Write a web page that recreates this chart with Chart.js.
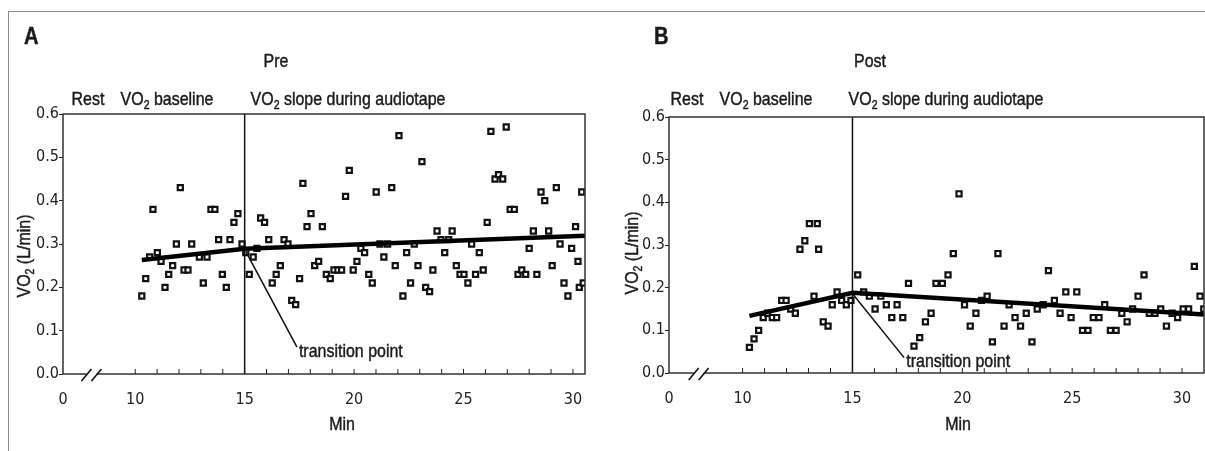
<!DOCTYPE html>
<html>
<head>
<meta charset="utf-8">
<script src="https://cdn.jsdelivr.net/npm/chart.js@4.4.1/dist/chart.umd.min.js"></script>
<style>
    html, body { margin: 0; padding: 0; background: #fff; }
    body { width: 1205px; height: 451px; position: relative; overflow: hidden; }
    #frame { position: absolute; left: 8px; top: 11px; width: 1197px; height: 440px;
             border-top: 1px solid #8c8c8c; border-left: 1px solid #8c8c8c; }
    .panel { position: absolute; top: 0; height: 451px; }
    #panelA { left: 0; width: 600px; }
    #panelB { left: 600px; width: 605px; }
</style>
</head>
<body>
<div id="frame"></div>
<div class="panel" id="panelA"><canvas id="chartA" width="600" height="451"></canvas></div>
<div class="panel" id="panelB"><canvas id="chartB" width="605" height="451"></canvas></div>
<script>
const TICK_FONT = '"DejaVu Sans Condensed", "Liberation Sans", sans-serif';
const TEXT_FONT = '"Liberation Sans", Arial, sans-serif';
const NARROW = 0.84; // horizontal squeeze to get a condensed look

// axis ticks (minutes); the left edge of the broken axis is labelled 0
const xMajorTicks = [10, 15, 20, 25, 30];
const yTickValues = [0, 0.1, 0.2, 0.3, 0.4, 0.5, 0.6];
const transitionMin = 15;

// A - Pre
const preMin = [10.30,10.48,10.66,10.81,11.01,11.18,11.36,11.53,11.71,11.88,
    12.06,12.23,12.41,12.58,12.93,13.11,13.28,13.46,13.64,13.81,
    13.98,14.16,14.33,14.51,14.69,14.88,15.05,15.21,15.39,15.56,
    15.73,15.91,16.10,16.26,16.44,16.63,16.80,16.98,17.15,17.33,
    17.51,17.66,17.85,18.03,18.20,18.38,18.55,18.73,18.91,19.08,
    19.26,19.43,19.61,19.78,19.96,20.13,20.31,20.48,20.67,20.83,
    21.01,21.18,21.36,21.53,21.72,21.88,22.05,22.23,22.40,22.58,
    22.75,22.92,23.10,23.27,23.45,23.60,23.79,23.97,24.14,24.32,
    24.48,24.67,24.84,25.02,25.20,25.37,25.55,25.72,25.90,26.08,
    26.25,26.44,26.60,26.79,26.95,27.13,27.32,27.49,27.66,27.84,
    28.00,28.19,28.35,28.54,28.71,28.89,29.05,29.24,29.41,29.59,
    29.77,29.94,30.12,30.23,30.29,30.40,30.47];
const preVO2 = [0.18,0.22,0.27,0.38,0.28,0.26,0.20,0.23,0.25,0.30,
    0.43,0.24,0.24,0.30,0.27,0.21,0.27,0.38,0.38,0.31,
    0.23,0.20,0.31,0.35,0.37,0.30,0.28,0.23,0.27,0.29,
    0.36,0.35,0.31,0.21,0.23,0.25,0.31,0.30,0.17,0.16,
    0.22,0.44,0.34,0.37,0.25,0.26,0.34,0.23,0.22,0.24,
    0.24,0.24,0.41,0.47,0.24,0.26,0.29,0.28,0.23,0.21,
    0.42,0.30,0.27,0.30,0.43,0.25,0.55,0.18,0.28,0.21,
    0.30,0.25,0.49,0.20,0.19,0.24,0.33,0.31,0.28,0.31,
    0.33,0.25,0.23,0.23,0.21,0.30,0.23,0.28,0.24,0.35,
    0.56,0.45,0.46,0.45,0.57,0.38,0.38,0.23,0.24,0.23,
    0.29,0.33,0.23,0.42,0.40,0.33,0.25,0.43,0.30,0.21,
    0.18,0.29,0.34,0.26,0.20,0.42,0.21];
const preFitMin = [10.3, 15, 30.55];
const preFitVO2 = [0.263, 0.289, 0.319];

// B - Post
const postMin = [10.31,10.52,10.73,10.94,11.14,11.35,11.55,11.78,11.98,12.19,
    12.40,12.61,12.83,13.04,13.25,13.40,13.46,13.67,13.89,14.08,
    14.30,14.51,14.72,14.93,15.24,15.51,15.77,16.03,16.29,16.54,
    16.79,17.03,17.29,17.55,17.80,18.06,18.32,18.58,18.80,19.09,
    19.35,19.59,19.85,20.10,20.36,20.62,20.87,21.13,21.37,21.62,
    21.90,22.13,22.40,22.65,22.91,23.17,23.41,23.68,23.92,24.19,
    24.45,24.71,24.95,25.21,25.47,25.72,25.96,26.22,26.48,26.74,
    27.00,27.26,27.50,27.75,28.00,28.27,28.51,28.77,29.03,29.29,
    29.55,29.80,30.05,30.30,30.56,30.82,30.99];
const postVO2 = [0.06,0.08,0.10,0.13,0.14,0.13,0.13,0.17,0.17,0.15,
    0.14,0.29,0.31,0.35,0.18,0.35,0.29,0.12,0.11,0.16,
    0.19,0.17,0.16,0.17,0.23,0.19,0.18,0.15,0.18,0.16,
    0.13,0.16,0.13,0.21,0.063,0.083,0.12,0.14,0.21,0.21,
    0.23,0.28,0.42,0.16,0.11,0.14,0.17,0.18,0.073,0.28,
    0.11,0.16,0.13,0.11,0.14,0.073,0.15,0.16,0.24,0.17,
    0.14,0.19,0.13,0.19,0.10,0.10,0.13,0.13,0.16,0.10,
    0.10,0.14,0.12,0.15,0.18,0.23,0.14,0.14,0.15,0.11,
    0.14,0.13,0.15,0.15,0.25,0.18,0.15];
const postFitMin = [10.31, 15, 31];
const postFitVO2 = [0.134, 0.188, 0.137];

const panels = [
    {
        canvas: "chartA", letter: "A", title: "Pre",
        min: preMin, vo2: preVO2, fitMin: preFitMin, fitVO2: preFitVO2,
        xMin: 6.7, xMax: 30.55,
        pad: { left: 0, top: 114, right: 15, bottom: 47 }, yAxisWidth: 63,
        letterPos: [24, 37], titlePos: [276, 62],
        phasePos: [[88, 100], [167, 100], [348, 100]],
        minPos: [342, 425], yTitlePos: [25, 256],
        pointer: [[15.05, 0.283], [17.39, 0.062]], notePos: [17.48, 0.051],
        breakAt: 8.0
    },
    {
        canvas: "chartB", letter: "B", title: "Post",
        min: postMin, vo2: postVO2, fitMin: postFitMin, fitVO2: postFitVO2,
        xMin: 6.65, xMax: 31.0,
        pad: { left: 0, top: 117, right: 1, bottom: 48 }, yAxisWidth: 69,
        letterPos: [54, 37], titlePos: [270, 62],
        phasePos: [[87, 100], [166, 100], [346, 100]],
        minPos: [358, 425], yTitlePos: [33, 253],
        pointer: [[15.05, 0.183], [17.35, 0.036]], notePos: [17.45, 0.027],
        breakAt: 8.0
    }
];

// draws squeezed text; a segment flagged true is a subscript
function richText(ctx, x, y, segs, size, align, weight) {
    const w = weight ? weight + " " : "";
    const fontFor = s => w + (s[1] ? size * 0.66 : size) + "px " + TEXT_FONT;
    let total = 0;
    segs.forEach(s => { ctx.font = fontFor(s); total += ctx.measureText(s[0]).width; });
    ctx.save();
    ctx.translate(x, y);
    ctx.scale(NARROW, 1);
    let cx = align === "left" ? 0 : -total / 2;
    ctx.textAlign = "left";
    ctx.textBaseline = "middle";
    ctx.strokeStyle = ctx.fillStyle;
    ctx.lineWidth = 0.45;
    segs.forEach(s => {
        ctx.font = fontFor(s);
        const ty = s[1] ? size * 0.3 : 0;
        ctx.fillText(s[0], cx, ty);
        ctx.strokeText(s[0], cx, ty);
        cx += ctx.measureText(s[0]).width;
    });
    ctx.restore();
}

const decorPlugin = {
    id: "decor",
    afterDraw(chart) {
        const p = chart.options.plugins.decor;
        const ctx = chart.ctx;
        const area = chart.chartArea;
        const xs = chart.scales.x;
        const ys = chart.scales.y;
        ctx.save();

        // plot frame
        ctx.strokeStyle = "#333";
        ctx.lineWidth = 1.5;
        ctx.strokeRect(area.left, area.top, area.right - area.left, area.bottom - area.top);

        // minute ticks, pointing into the plot
        ctx.lineWidth = 1;
        ctx.strokeStyle = "#222";
        for (let m = xMajorTicks[0]; m <= xMajorTicks[xMajorTicks.length - 1]; m++) {
            const px = xs.getPixelForValue(m);
            ctx.beginPath();
            ctx.moveTo(px, area.bottom);
            ctx.lineTo(px, area.bottom - 5);
            ctx.stroke();
        }

        // axis break marks
        const bx = xs.getPixelForValue(p.breakAt);
        const by = area.bottom;
        ctx.fillStyle = "#fff";
        ctx.fillRect(bx - 5, by - 2, 10, 4);
        ctx.strokeStyle = "#111";
        ctx.lineWidth = 1.6;
        [-5, 5].forEach(dx => {
            ctx.beginPath();
            ctx.moveTo(bx + dx - 5, by + 7);
            ctx.lineTo(bx + dx + 5, by - 5);
            ctx.stroke();
        });

        ctx.fillStyle = "#1a1a1a";

        richText(ctx, p.letterPos[0], p.letterPos[1], [[p.letter, false]], 24, "left", "bold");
        richText(ctx, p.titlePos[0], p.titlePos[1], [[p.title, false]], 19, "center");

        // phase labels
        richText(ctx, p.phasePos[0][0], p.phasePos[0][1], [["Rest", false]], 19, "center");
        richText(ctx, p.phasePos[1][0], p.phasePos[1][1], [["VO", false], ["2", true], [" baseline", false]], 19, "center");
        richText(ctx, p.phasePos[2][0], p.phasePos[2][1], [["VO", false], ["2", true], [" slope during audiotape", false]], 19, "center");

        richText(ctx, p.minPos[0], p.minPos[1], [["Min", false]], 19, "center");

        // y axis title
        ctx.save();
        ctx.translate(p.yTitlePos[0], p.yTitlePos[1]);
        ctx.rotate(-Math.PI / 2);
        richText(ctx, 0, 0, [["VO", false], ["2", true], [" (L/min)", false]], 19, "center");
        ctx.restore();

        // transition point note
        richText(ctx, xs.getPixelForValue(p.notePos[0]), ys.getPixelForValue(p.notePos[1]),
            [["transition point", false]], 19, "left");

        ctx.restore();
    }
};

function makeChart(p) {
    const points = p.min.map((m, i) => ({ x: m, y: p.vo2[i] }));
    const fit = p.fitMin.map((m, i) => ({ x: m, y: p.fitVO2[i] }));
    const divider = [{ x: transitionMin, y: 0 }, { x: transitionMin, y: 0.6 }];
    const pointer = p.pointer.map(v => ({ x: v[0], y: v[1] }));

    new Chart(document.getElementById(p.canvas), {
        type: "scatter",
        data: {
            datasets: [
                { type: "line", data: fit, borderColor: "#000", borderWidth: 4.5,
                  pointRadius: 0, fill: false, tension: 0 },
                { type: "line", data: divider, borderColor: "#111", borderWidth: 1.5,
                  pointRadius: 0, fill: false },
                { type: "line", data: pointer, borderColor: "#111", borderWidth: 1.5,
                  pointRadius: 0, fill: false },
                { data: points, pointStyle: "rect", pointRadius: 3.6, borderWidth: 2.2,
                  borderColor: "#111", backgroundColor: "#fff" }
            ]
        },
        options: {
            responsive: false,
            animation: false,
            events: [],
            devicePixelRatio: 1,
            layout: { padding: p.pad, autoPadding: false },
            plugins: {
                legend: { display: false },
                tooltip: { enabled: false },
                decor: p
            },
            scales: {
                x: {
                    type: "linear", min: p.xMin, max: p.xMax,
                    afterBuildTicks: s => { s.ticks = [p.xMin].concat(xMajorTicks).map(v => ({ value: v })); },
                    afterFit: s => { s.height = 30; },
                    grid: { display: false },
                    border: { display: false },
                    ticks: {
                        autoSkip: false, maxRotation: 0, padding: 8, color: "#222",
                        font: { family: TICK_FONT, size: 16 },
                        callback: v => (v === p.xMin ? "0" : String(v))
                    }
                },
                y: {
                    min: 0, max: 0.6,
                    afterBuildTicks: s => { s.ticks = yTickValues.map(v => ({ value: v })); },
                    afterFit: s => { s.width = p.yAxisWidth; },
                    grid: { drawOnChartArea: false, drawTicks: true, tickLength: 4, color: "#222" },
                    border: { display: false },
                    ticks: {
                        padding: 0, color: "#222",
                        font: { family: TICK_FONT, size: 16 },
                        callback: v => v.toFixed(1)
                    }
                }
            }
        },
        plugins: [decorPlugin]
    });
}

panels.forEach(makeChart);
</script>
</body>
</html>
